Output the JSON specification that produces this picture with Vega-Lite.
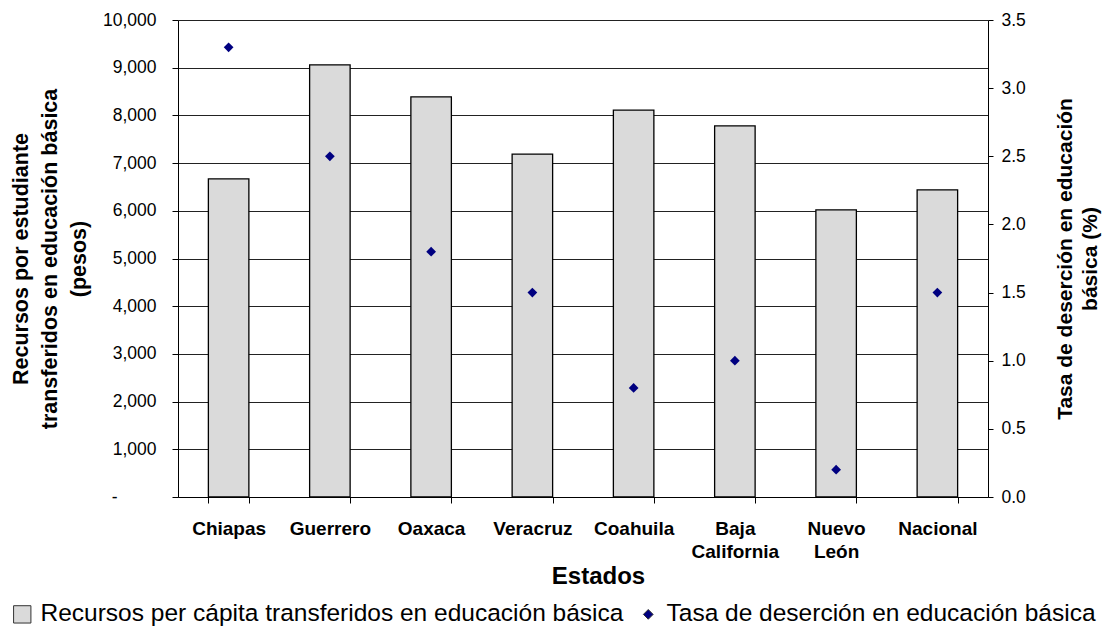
{
  "$schema": "https://vega.github.io/schema/vega-lite/v6.json",
  "width": 810,
  "height": 477,
  "autosize": "none",
  "padding": {"left": 178, "top": 20, "right": 116, "bottom": 132},
  "background": "white",
  "config": {
    "font": "Liberation Sans",
    "view": {"stroke": null},
    "axis": {
      "domainColor": "black",
      "domainWidth": 1,
      "tickColor": "black",
      "tickWidth": 1,
      "labelColor": "black",
      "titleColor": "black",
      "labelFont": "Liberation Sans",
      "titleFont": "Liberation Sans"
    },
    "legend": {
      "orient": "none",
      "legendX": -168,
      "legendY": 582,
      "direction": "horizontal",
      "labelFontSize": 24.5,
      "labelFont": "Liberation Sans",
      "labelColor": "black",
      "labelLimit": 1000,
      "labelOffset": 6,
      "columnPadding": 12,
      "padding": 0,
      "symbolStrokeColor": "#333333",
      "symbolStrokeWidth": 1
    }
  },
  "data": {
    "values": [
      {"estado": "Chiapas", "recursos": 6670, "tasa": 3.3},
      {"estado": "Guerrero", "recursos": 9060, "tasa": 2.5},
      {"estado": "Oaxaca", "recursos": 8390, "tasa": 1.8},
      {"estado": "Veracruz", "recursos": 7190, "tasa": 1.5},
      {"estado": "Coahuila", "recursos": 8110, "tasa": 0.8},
      {"estado": "Baja California", "recursos": 7780, "tasa": 1.0},
      {"estado": "Nuevo León", "recursos": 6020, "tasa": 0.2},
      {"estado": "Nacional", "recursos": 6440, "tasa": 1.5}
    ]
  },
  "encoding": {
    "x": {
      "field": "estado",
      "type": "nominal",
      "sort": null,
      "scale": {"paddingInner": 0.6, "paddingOuter": 0.3},
      "axis": {
        "title": "Estados",
        "titleFontSize": 24,
        "titleFontWeight": "bold",
        "titlePadding": 3,
        "titleX": 420,
        "labelAngle": 0,
        "labelFontSize": 19,
        "labelFontWeight": "bold",
        "labelExpr": "split(datum.label, ' ')",
        "labelLineHeight": 23,
        "labelPadding": 16,
        "tickSize": 6,
        "tickBand": "extent",
        "grid": false
      }
    }
  },
  "layer": [
    {
      "mark": {"type": "bar", "stroke": "black", "strokeWidth": 1.3},
      "encoding": {
        "y": {
          "field": "recursos",
          "type": "quantitative",
          "scale": {"domain": [0, 10000], "nice": false},
          "axis": {
            "orient": "left",
            "values": [0, 1000, 2000, 3000, 4000, 5000, 6000, 7000, 8000, 9000, 10000],
            "labelExpr": "datum.value == 0 ? '-\u00a0\u00a0\u00a0\u00a0\u00a0\u00a0\u00a0\u00a0\u200b' : format(datum.value, ',')",
            "labelFontSize": 17.5,
            "labelPadding": 16,
            "tickSize": 6,
            "grid": true,
            "gridColor": "#222222",
            "gridWidth": 1,
            "title": ["Recursos por estudiante", "transferidos en educación básica", "(pesos)"],
            "titleFontSize": 21.5,
            "titleFontWeight": "bold",
            "titleLineHeight": 29,
            "titleAngle": -90,
            "titleBaseline": "bottom",
            "titlePadding": 12
          }
        },
        "color": {
          "datum": "Recursos per cápita transferidos en educación básica",
          "title": null,
          "scale": {
            "domain": ["Recursos per cápita transferidos en educación básica", "Tasa de deserción en educación básica"],
            "range": ["#dadada", "#000080"]
          }
        }
      }
    },
    {
      "mark": {"type": "point", "filled": true, "opacity": 1},
      "encoding": {
        "y": {
          "field": "tasa",
          "type": "quantitative",
          "scale": {"domain": [0, 3.5], "nice": false},
          "axis": {
            "orient": "right",
            "values": [0, 0.5, 1, 1.5, 2, 2.5, 3, 3.5],
            "format": ".1f",
            "labelFontSize": 17.5,
            "labelPadding": 8,
            "tickSize": 5,
            "grid": false,
            "title": ["Tasa  de deserción en educación", "básica (%)"],
            "titleFontSize": 21,
            "titleFontWeight": "bold",
            "titleLineHeight": 25,
            "titleAngle": -90,
            "titleBaseline": "top",
            "titlePadding": 4
          }
        },
        "color": {
          "datum": "Tasa de deserción en educación básica",
          "title": null
        },
        "shape": {
          "datum": "Tasa de deserción en educación básica",
          "title": null,
          "scale": {
            "domain": ["Recursos per cápita transferidos en educación básica", "Tasa de deserción en educación básica"],
            "range": ["square", "diamond"]
          }
        },
        "size": {
          "datum": "Tasa de deserción en educación básica",
          "title": null,
          "scale": {
            "type": "point",
            "padding": 0,
            "domain": ["Recursos per cápita transferidos en educación básica", "Tasa de deserción en educación básica"],
            "range": [300, 95]
          }
        }
      }
    }
  ],
  "resolve": {"scale": {"y": "independent"}}
}
